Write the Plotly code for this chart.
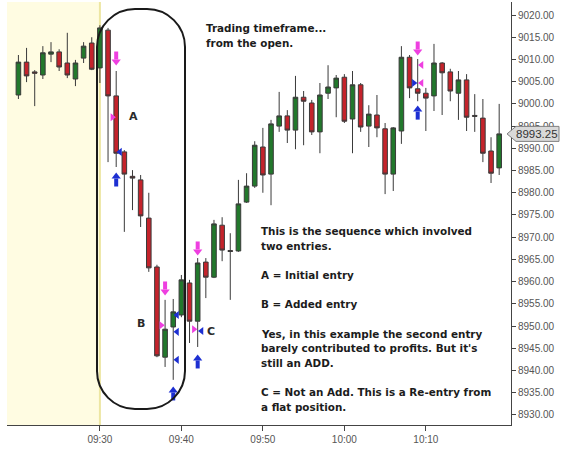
import plotly.graph_objects as go

# ---------------- data ----------------
times = ["09:20", "09:21", "09:22", "09:23", "09:24", "09:25", "09:26", "09:27", "09:28", "09:29",
         "09:30", "09:31", "09:32", "09:33", "09:34", "09:35", "09:36", "09:37", "09:38", "09:39",
         "09:40", "09:41", "09:42", "09:43", "09:44", "09:45", "09:46", "09:47", "09:48", "09:49",
         "09:50", "09:51", "09:52", "09:53", "09:54", "09:55", "09:56", "09:57", "09:58", "09:59",
         "10:00", "10:01", "10:02", "10:03", "10:04", "10:05", "10:06", "10:07", "10:08", "10:09",
         "10:10", "10:11", "10:12", "10:13", "10:14", "10:15", "10:16", "10:17", "10:18", "10:19"]
opens = [9002.0, 9009.4, 9007.2, 9006.5, 9011.2, 9011.7, 9009.2, 9005.6, 9010.3, 9013.7,
         9008.1, 9016.6, 9001.8, 8989.2, 8983.7, 8982.9, 8974.3, 8963.3, 8943.0, 8949.8,
         8952.5, 8959.7, 8951.1, 8964.4, 8961.0, 8972.7, 8967.0, 8966.9, 8977.9, 8981.5,
         8990.3, 8984.2, 8995.0, 8997.3, 8994.1, 9001.5, 9000.2, 8993.7, 9002.4, 9003.6,
         9006.0, 8996.6, 9004.3, 8995.0, 8997.5, 8994.4, 8984.2, 8993.9, 9010.5, 9003.4,
         9002.4, 9001.8, 9009.2, 9007.2, 9002.4, 9005.4, 8997.4, 8996.8, 8989.4, 8985.6]
highs = [9011.0, 9012.6, 9007.6, 9013.0, 9013.9, 9012.3, 9016.0, 9009.9, 9013.9, 9015.0,
         9017.7, 9017.1, 9007.4, 8989.6, 8985.1, 8984.0, 8980.0, 8963.8, 8955.9, 8956.1,
         8961.5, 8960.4, 8965.3, 8965.3, 8973.9, 8974.5, 8970.9, 8982.9, 8984.4, 8991.6,
         8994.6, 8996.4, 9002.7, 8998.6, 9006.3, 9002.9, 9000.9, 9004.7, 9008.7, 9006.5,
         9006.7, 9007.4, 9004.7, 8999.7, 9002.0, 8995.7, 8994.8, 9013.0, 9011.0, 9010.1,
         9003.6, 9013.5, 9009.4, 9007.9, 9007.4, 9006.7, 9002.2, 9001.1, 8992.5, 9000.0]
lows = [9001.1, 9004.9, 8999.5, 9005.6, 9009.4, 9007.4, 9005.8, 9004.0, 9009.2, 9007.6,
        9004.7, 8986.9, 8985.8, 8971.2, 8976.1, 8972.3, 8962.2, 8943.0, 8940.8, 8937.9,
        8952.0, 8946.2, 8945.3, 8956.3, 8960.8, 8964.6, 8955.9, 8966.7, 8977.7, 8981.1,
        8980.0, 8977.2, 8993.7, 8991.2, 8989.8, 8990.7, 8993.0, 8988.9, 9001.1, 8997.0,
        8995.7, 8988.9, 8993.7, 8990.3, 8992.5, 8979.7, 8980.4, 8991.0, 9001.3, 9000.6,
        8993.9, 8998.4, 8997.5, 9000.6, 8996.4, 8993.9, 8993.7, 8986.9, 8982.2, 8984.0]
closes = [9009.4, 9006.3, 9006.9, 9011.5, 9011.7, 9008.3, 9006.5, 9009.2, 9013.0, 9007.8,
          9017.1, 9001.8, 8988.9, 8984.2, 8983.3, 8974.8, 8963.1, 8943.3, 8949.3, 8953.2,
          8960.4, 8951.1, 8964.2, 8961.0, 8973.0, 8967.1, 8966.8, 8977.5, 8981.5, 8990.7,
          8984.0, 8995.5, 8997.3, 8994.1, 9001.5, 9000.6, 8993.7, 9002.0, 9003.8, 9005.8,
          8996.1, 9004.3, 8994.8, 8997.7, 8994.6, 8984.2, 8994.6, 9010.5, 9003.6, 9002.4,
          9001.3, 9009.2, 9007.0, 9002.9, 9005.4, 8997.0, 8997.2, 8988.9, 8984.4, 8993.25]

x_tick_labels = ["09:30", "09:40", "09:50", "10:00", "10:10"]
y_tick_values = [8930, 8935, 8940, 8945, 8950, 8955, 8960, 8965, 8970, 8975,
                 8980, 8985, 8990, 8995, 9000, 9005, 9010, 9015, 9020]
session_open = "09:30"

# execution arrows (tip price)
sell_arrow_times = ["09:32", "09:38", "09:42", "10:09"]
sell_arrow_prices = [9008.75, 8957.0, 8966.0, 9011.0]
buy_arrow_times = ["09:32", "09:39", "09:42", "10:09"]
buy_arrow_prices = [8984.45, 8936.3, 8943.5, 8999.5]

# execution fill triangles: side "L" = left of bar (points right), "R" = right of bar (points left)
sell_fill_times = ["09:32", "09:38", "09:42", "10:09", "10:09"]
sell_fill_prices = [8997.0, 8950.2, 8949.3, 9008.75, 9004.7]
sell_fill_sides = ["L", "L", "L", "R", "R"]
buy_fill_times = ["09:32", "09:39", "09:39", "09:39", "09:42", "10:09"]
buy_fill_prices = [8989.2, 8952.5, 8948.7, 8942.4, 8948.9, 9004.7]
buy_fill_sides = ["R", "R", "R", "R", "R", "L"]

# ---------------- layout constants ----------------
W, H = 566, 455
ML, MR, MT, MB = 7, 55, 2, 30
PW, PH = W - ML - MR, H - MT - MB
X_RANGE = [18.6, 80.45]
Y_RANGE = [8927.74, 9022.93]
MIN_PER_PX = (X_RANGE[1] - X_RANGE[0]) / PW
PRICE_PER_PX = (Y_RANGE[1] - Y_RANGE[0]) / PH

MAGENTA = "#ee3fe0"
BLUE = "#1d2fd2"


def tmin(t):
    h, m = t.split(":")
    return int(h) * 60 + int(m) - 540


def px_x(px):
    return X_RANGE[0] + (px - ML) * MIN_PER_PX


def px_y(py):
    return Y_RANGE[1] - (py - MT) * PRICE_PER_PX


x = [tmin(t) for t in times]

fig = go.Figure()

fig.add_trace(go.Candlestick(
    x=x, open=opens, high=highs, low=lows, close=closes,
    increasing=dict(line=dict(color="#3a3a3a", width=1), fillcolor="#22782c"),
    decreasing=dict(line=dict(color="#3a3a3a", width=1), fillcolor="#c4232b"),
    whiskerwidth=0, showlegend=False, hoverinfo="skip",
))


def arrow_traces(ts, ps, direction, color):
    sgn = 1 if direction == "down" else -1   # down arrow: body above tip
    sx, sy, hx, hy = [], [], [], []
    for t, p in zip(ts, ps):
        xm = tmin(t)
        sx += [xm, xm, None]
        sy += [p + sgn * 5.5 * PRICE_PER_PX, p + sgn * 13.5 * PRICE_PER_PX, None]
        hx.append(xm)
        hy.append(p + sgn * 3.5 * PRICE_PER_PX)
    fig.add_trace(go.Scatter(x=sx, y=sy, mode="lines", line=dict(color=color, width=4),
                             showlegend=False, hoverinfo="skip"))
    fig.add_trace(go.Scatter(x=hx, y=hy, mode="markers",
                             marker=dict(symbol="triangle-" + direction, size=8, color=color,
                                         line=dict(width=0)),
                             showlegend=False, hoverinfo="skip"))


arrow_traces(sell_arrow_times, sell_arrow_prices, "down", MAGENTA)
arrow_traces(buy_arrow_times, buy_arrow_prices, "up", BLUE)


def fill_trace(ts, ps, sides, color):
    off = 3.8 * MIN_PER_PX
    xs = [tmin(t) - off if s == "L" else tmin(t) + off for t, s in zip(ts, sides)]
    syms = ["triangle-right" if s == "L" else "triangle-left" for s in sides]
    fig.add_trace(go.Scatter(x=xs, y=ps, mode="markers",
                             marker=dict(symbol=syms, size=7, color=color, line=dict(width=0)),
                             showlegend=False, hoverinfo="skip"))


fill_trace(sell_fill_times, sell_fill_prices, sell_fill_sides, MAGENTA)
fill_trace(buy_fill_times, buy_fill_prices, buy_fill_sides, BLUE)

# ---------------- shapes ----------------
shapes = []
shapes.append(dict(type="rect", xref="x", yref="paper", x0=X_RANGE[0], x1=tmin(session_open),
                   y0=0, y1=1, fillcolor="#fffce2", line=dict(width=0), layer="below"))
shapes.append(dict(type="line", xref="x", yref="paper", x0=tmin(session_open), x1=tmin(session_open),
                   y0=0, y1=1, line=dict(color="#ede6a2", width=2), layer="below"))

# rounded outline around the sequence
X0, X1 = px_x(97), px_x(185)
YT, YB = px_y(9), px_y(409)
R = 38
rx, ry = R * MIN_PER_PX, R * PRICE_PER_PX
k = 0.5523
path = (f"M{X0},{YT - ry} "
        f"C{X0},{YT - ry * (1 - k)} {X0 + rx * (1 - k)},{YT} {X0 + rx},{YT} "
        f"L{X1 - rx},{YT} "
        f"C{X1 - rx * (1 - k)},{YT} {X1},{YT - ry * (1 - k)} {X1},{YT - ry} "
        f"L{X1},{YB + ry} "
        f"C{X1},{YB + ry * (1 - k)} {X1 - rx * (1 - k)},{YB} {X1 - rx},{YB} "
        f"L{X0 + rx},{YB} "
        f"C{X0 + rx * (1 - k)},{YB} {X0},{YB + ry * (1 - k)} {X0},{YB + ry} Z")
shapes.append(dict(type="path", xref="x", yref="y", path=path,
                   line=dict(color="#1a1a1a", width=2), layer="above"))

# last price tag
last = closes[-1]


def py_paper(p):
    return (p - Y_RANGE[0]) / (Y_RANGE[1] - Y_RANGE[0])


def pxp(px):
    return (px - ML) / PW


tag_half = 7.5 * PRICE_PER_PX
tag_path = (f"M{pxp(507)},{py_paper(last)} L{pxp(516)},{py_paper(last + tag_half)} "
            f"L{pxp(559)},{py_paper(last + tag_half)} L{pxp(559)},{py_paper(last - tag_half)} "
            f"L{pxp(516)},{py_paper(last - tag_half)} Z")
shapes.append(dict(type="path", xref="paper", yref="paper", path=tag_path,
                   fillcolor="#d9d9d9", line=dict(color="#808080", width=1), layer="above"))

# ---------------- annotations ----------------
TXT_FONT = dict(family="DejaVu Sans", size=10.4, color="#1c1c1c")
annotations = []
title_lines = ["Trading timeframe...", "from the open."]
for i, line in enumerate(title_lines):
    annotations.append(dict(x=px_x(204), y=px_y(28 + 15 * i), xref="x", yref="y", text=f"<b>{line}</b>",
                            showarrow=False, xanchor="left", yanchor="middle", font=TXT_FONT))
body_lines = ["This is the sequence which involved", "two entries.", "", "A = Initial entry", "",
              "B = Added entry", "", "Yes, in this example the second entry",
              "barely contributed to profits. But it's", "still an ADD.", "",
              "C = Not an Add. This is a Re-entry from", "a flat position."]
for i, line in enumerate(body_lines):
    if not line:
        continue
    annotations.append(dict(x=px_x(259), y=px_y(231 + 14.67 * i), xref="x", yref="y", text=f"<b>{line}</b>",
                            showarrow=False, xanchor="left", yanchor="middle", font=TXT_FONT))
for lab, (lx, ly) in {"A": (133, 116), "B": (141, 323), "C": (211, 331)}.items():
    annotations.append(dict(x=px_x(lx), y=px_y(ly), xref="x", yref="y", text=f"<b>{lab}</b>",
                            showarrow=False, xanchor="center", yanchor="middle",
                            font=dict(family="DejaVu Sans", size=11, color="#2a2a2a")))
annotations.append(dict(x=pxp(537), y=py_paper(last), xref="paper", yref="paper",
                        text=f"{last:.2f}", showarrow=False, xanchor="center", yanchor="middle",
                        font=dict(family="Liberation Sans", size=11.5, color="#333333")))

fig.update_layout(
    width=W, height=H,
    margin=dict(l=ML, r=MR, t=MT, b=MB, pad=0, autoexpand=False),
    paper_bgcolor="white", plot_bgcolor="white",
    showlegend=False,
    shapes=shapes, annotations=annotations,
    boxgap=0.25, boxgroupgap=0.25,
    xaxis=dict(range=X_RANGE, rangeslider=dict(visible=False), showgrid=False, zeroline=False,
               showline=True, linecolor="#444444", linewidth=1, automargin=False,
               ticks="outside", ticklen=5, tickcolor="#444444",
               tickvals=[tmin(t) for t in x_tick_labels], ticktext=x_tick_labels,
               tickfont=dict(family="Liberation Sans", size=10, color="#555555")),
    yaxis=dict(range=Y_RANGE, side="right", showgrid=False, zeroline=False,
               showline=True, linecolor="#444444", linewidth=1, automargin=False,
               ticks="outside", ticklen=4, tickcolor="#444444",
               tickvals=y_tick_values, ticktext=[f"{v:.2f}" for v in y_tick_values],
               tickfont=dict(family="Liberation Sans", size=10, color="#555555")),
)

fig.write_html("out.html", config={"displayModeBar": False},
               post_script="document.body.style.margin='0px';")
